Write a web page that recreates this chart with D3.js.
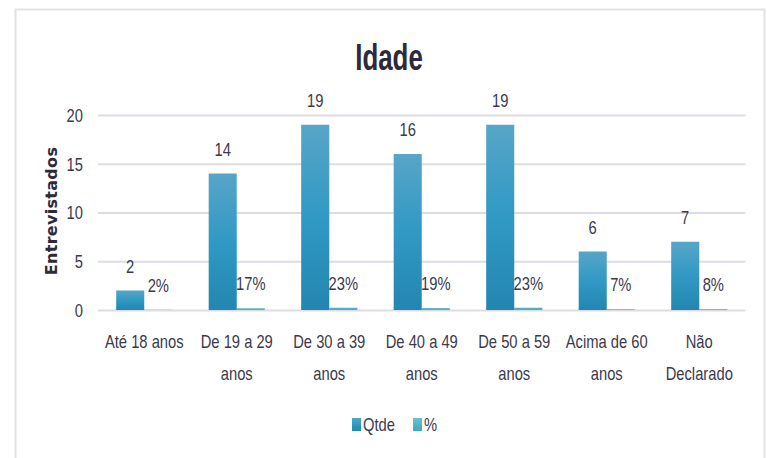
<!doctype html>
<html>
<head>
  <meta charset="utf-8">
  <script src="https://cdnjs.cloudflare.com/ajax/libs/d3/7.8.5/d3.min.js"></script>
  <style>
    body { margin: 0; background: #fff; }
    svg { display: block; }
    text { font-family: "Liberation Sans", Arial, sans-serif; fill: #3b3a4a; }
  </style>
</head>
<body>
  <svg id="chart" width="767" height="458"></svg>
  <script>
    var categories = ["Até 18 anos", "De 19 a 29 anos", "De 30 a 39 anos", "De 40 a 49 anos", "De 50 a 59 anos", "Acima de 60 anos", "Não Declarado"];
    var tickLabels = [["Até 18 anos"], ["De 19 a 29", "anos"], ["De 30 a 39", "anos"], ["De 40 a 49", "anos"], ["De 50 a 59", "anos"], ["Acima de 60", "anos"], ["Não", "Declarado"]];
    var qtde = [2, 14, 19, 16, 19, 6, 7];
    var pct = [0.02, 0.17, 0.23, 0.19, 0.23, 0.07, 0.08];
    var series = ["Qtde", "%"];
    var yTicks = [0, 5, 10, 15, 20];

    // the source font is a condensed one: squeeze Liberation Sans horizontally
    var SQ = 0.82;
    var narrow = (cx, cy) => `translate(${cx},${cy}) scale(${SQ},1)`;

    var svg = d3.select("#chart");

    var defs = svg.append("defs");
    var grad = defs.append("linearGradient").attr("id", "gQtde")
      .attr("x1", 0).attr("y1", 0).attr("x2", 0).attr("y2", 1);
    grad.append("stop").attr("offset", "0%").attr("stop-color", "#58a5c8");
    grad.append("stop").attr("offset", "50%").attr("stop-color", "#3099c4");
    grad.append("stop").attr("offset", "100%").attr("stop-color", "#2386b0");
    var grad2 = defs.append("linearGradient").attr("id", "gPct")
      .attr("x1", 0).attr("y1", 0).attr("x2", 0).attr("y2", 1);
    grad2.append("stop").attr("offset", "0%").attr("stop-color", "#6cc3cd");
    grad2.append("stop").attr("offset", "100%").attr("stop-color", "#3fa9b9");

    // frame
    svg.append("rect")
      .attr("x", 15.5).attr("y", 9.5)
      .attr("width", 749).attr("height", 470)
      .attr("fill", "none")
      .attr("stroke", "#e2e1e8")
      .attr("stroke-width", 2);

    var x = d3.scaleBand().domain(categories).range([98, 745.5]).padding(0);
    var xs = d3.scaleBand().domain(series).range([0, x.bandwidth()])
      .paddingInner(0).paddingOuter(0.648);
    var y = d3.scaleLinear().domain([0, 20]).range([310, 115]);

    // y axis + gridlines
    var yAxis = svg.append("g")
      .attr("transform", "translate(98,0)")
      .call(d3.axisLeft(y).tickValues(yTicks).tickSize(-(745.5 - 98)).tickPadding(15));
    yAxis.select(".domain").remove();
    yAxis.selectAll(".tick line").attr("stroke", "#dddce4").attr("stroke-width", 2);
    yAxis.selectAll(".tick text")
      .attr("font-size", 18)
      .attr("x", -15 / SQ)
      .attr("dy", "0.36em")
      .attr("transform", `scale(${SQ},1)`)
      .style("font-family", "'Liberation Sans', Arial, sans-serif")
      .style("fill", "#3b3a4a");

    // bars
    var groups = svg.append("g").selectAll("g")
      .data(categories)
      .enter()
      .append("g")
      .attr("transform", d => `translate(${x(d)},0)`);

    groups.append("rect")
      .attr("x", xs("Qtde"))
      .attr("width", xs.bandwidth())
      .attr("y", (d, i) => y(qtde[i]))
      .attr("height", (d, i) => y(0) - y(qtde[i]))
      .attr("fill", "url(#gQtde)");

    groups.append("rect")
      .attr("x", xs("%"))
      .attr("width", xs.bandwidth())
      .attr("y", (d, i) => y(pct[i]))
      .attr("height", (d, i) => y(0) - y(pct[i]))
      .attr("fill", "#4bb0c0");

    // value labels
    groups.append("text")
      .attr("transform", (d, i) => narrow(xs("Qtde") + xs.bandwidth() / 2, y(qtde[i]) - 18))
      .attr("text-anchor", "middle")
      .attr("font-size", 18)
      .text((d, i) => qtde[i]);

    groups.append("text")
      .attr("transform", (d, i) => narrow(xs("%") + xs.bandwidth() / 2, y(pct[i]) - 18))
      .attr("text-anchor", "middle")
      .attr("font-size", 18)
      .text((d, i) => d3.format(".0%")(pct[i]));

    // category labels
    groups.append("text")
      .attr("transform", narrow(x.bandwidth() / 2, 0))
      .attr("text-anchor", "middle")
      .attr("font-size", 18)
      .selectAll("tspan")
      .data((d, i) => tickLabels[i])
      .enter()
      .append("tspan")
      .attr("x", 0)
      .attr("y", (d, j) => 348 + j * 32)
      .text(d => d);

    // title
    svg.append("text")
      .attr("transform", "translate(389,70) scale(0.7,1)")
      .attr("text-anchor", "middle")
      .attr("font-size", 37)
      .attr("font-weight", "bold")
      .style("fill", "#2d2a3c")
      .text("Idade");

    // y axis title
    svg.append("text")
      .attr("transform", "translate(57,211) rotate(-90)")
      .attr("text-anchor", "middle")
      .attr("font-size", 16)
      .attr("font-weight", "bold")
      .attr("letter-spacing", 0.3)
      .style("font-family", "'DejaVu Sans', sans-serif")
      .style("fill", "#2d2a3c")
      .text("Entrevistados");

    // legend
    var legendColors = ["url(#gQtde)", "url(#gPct)"];
    var legendX = [352, 413];
    var legend = svg.append("g").selectAll("g")
      .data(series)
      .enter()
      .append("g")
      .attr("transform", (d, i) => `translate(${legendX[i]},418)`);
    legend.append("rect")
      .attr("width", 9).attr("height", 13)
      .attr("fill", (d, i) => legendColors[i]);
    legend.append("text")
      .attr("transform", narrow(11, 13))
      .attr("font-size", 18)
      .text(d => d);
  </script>
</body>
</html>
